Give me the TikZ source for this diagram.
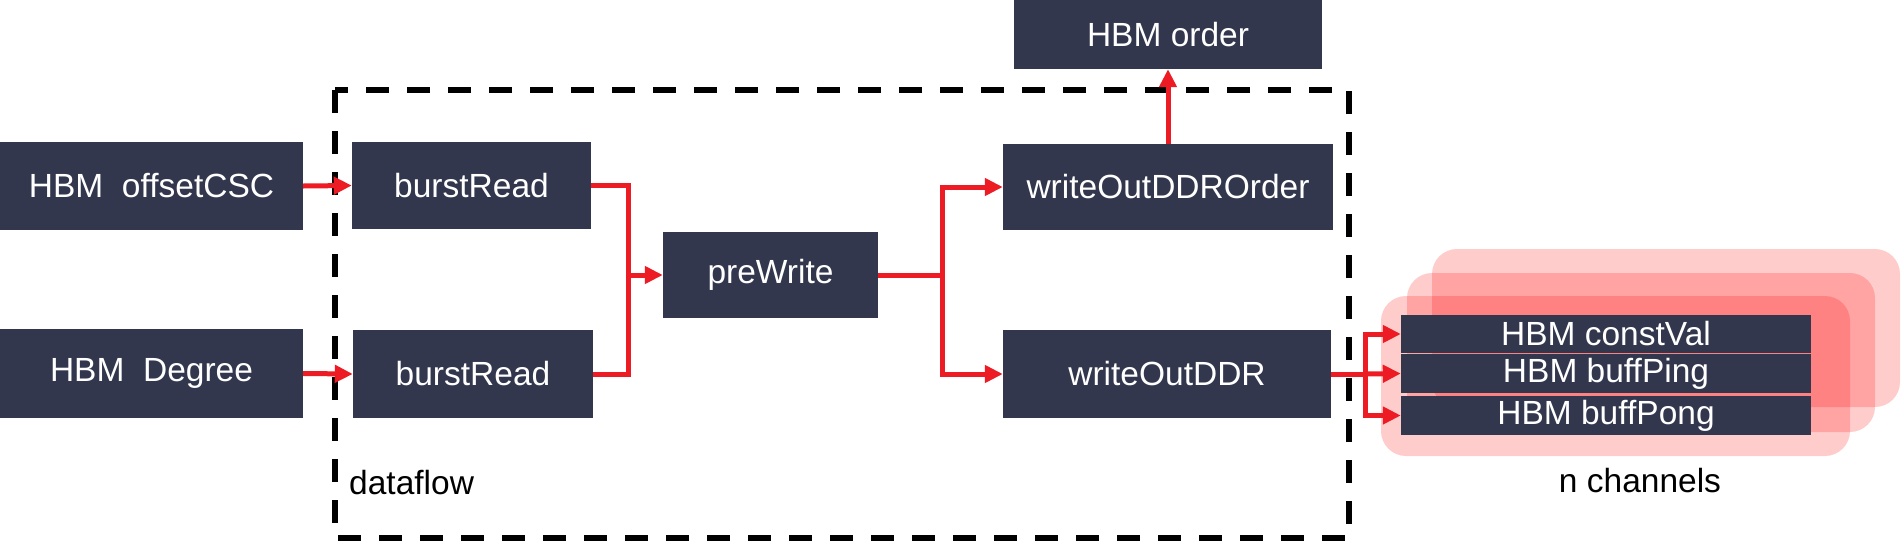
\documentclass[tikz,border=0pt]{standalone}
\usepackage{fontspec}
\setmainfont{Liberation Sans}
\usetikzlibrary{arrows.meta,calc}

\begin{document}
\begin{tikzpicture}[x=1pt, y=-1pt, line join=miter,
    blk/.style={fill=boxcol, text=white, inner sep=0pt,
                font=\fontsize{33.5}{38}\selectfont},
    lbl/.style={inner sep=0pt, font=\fontsize{33.5}{38}\selectfont},
    wire/.style={draw=arrowcol, line width=5pt},
    flow/.style={wire, -{Triangle[length=18pt,width=17pt]}},
    chan/.style={fill=red, opacity=0.2, rounded corners=25pt}]
  \definecolor{arrowcol}{RGB}{237,28,36}
  \definecolor{boxcol}{RGB}{50,55,78}
  \useasboundingbox (0,0) rectangle (1901,544);
  \fill[chan] (1432,249) rectangle (1900,407);
  \fill[chan] (1407,273) rectangle (1875,432);
  \fill[chan] (1381,296) rectangle (1850,456);
  \draw[line width=6pt, dash pattern=on 23pt off 18pt] (335,90) rectangle (1349,538);
  \node[blk, minimum width=303pt, minimum height=88pt] (oc) at (151.5,186) {HBM\ \ offsetCSC};
  \node[blk, minimum width=303pt, minimum height=89pt] (dg) at (151.5,373.5) {HBM\ \ Degree};
  \node[blk, minimum width=239pt, minimum height=87pt] (br1) at (471.5,185.5) {burstRead};
  \node[blk, minimum width=240pt, minimum height=88pt] (br2) at (473,374) {burstRead};
  \node[blk, minimum width=215pt, minimum height=86pt] (pw) at (770.5,275) {preWrite};
  \node[blk, minimum width=330pt, minimum height=86pt] (wo) at (1168,187) {writeOutDDROrder};
  \node[blk, minimum width=328pt, minimum height=88pt] (wd) at (1167,374) {writeOutDDR};
  \node[blk, minimum width=308pt, minimum height=69pt] (ho) at (1168,34.5) {HBM order};
  \node[blk, minimum width=410pt, minimum height=38pt] (cv) at (1606,334) {HBM constVal};
  \node[blk, minimum width=410pt, minimum height=39pt] (bpi) at (1606,373.5) {HBM buffPing};
  \node[blk, minimum width=410pt, minimum height=39pt] (bpo) at (1606,415.5) {HBM buffPong};
  \node[lbl, anchor=west] (df) at (349,483) {dataflow};
  \node[lbl] (nc) at (1640,481) {n channels};
  \coordinate (j1) at (628,275);
  \coordinate (j2) at (942,275);
  \coordinate (j3) at (1365,374);
  \draw[flow] (oc.east) -- (br1.west);
  \draw[flow] (dg.east) -- (br2.west);
  \draw[wire] (br1.east) -| (j1);
  \draw[wire] (br2.east) -| (j1);
  \draw[flow] (j1) -- (pw.west);
  \draw[wire] (pw.east) -- (j2);
  \draw[flow] (j2) |- (wo.west);
  \draw[flow] (j2) |- (wd.west);
  \draw[flow] (wo.north) -- (ho.south);
  \draw[wire] (wd.east) -- (j3);
  \draw[flow] (j3) |- (cv.west);
  \draw[flow] (j3) -- (bpi.west);
  \draw[flow] (j3) |- (bpo.west);
\end{tikzpicture}
\end{document}
